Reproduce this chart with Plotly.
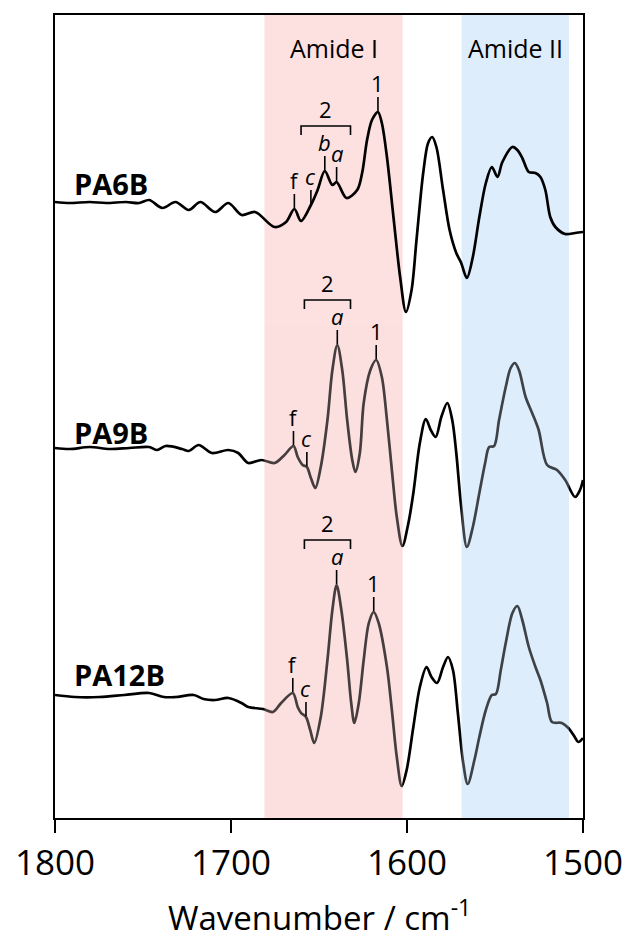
import numpy as np
import plotly.graph_objects as go

# ---------------- data ----------------
# Wavenumbers (cm-1) and relative intensities (a.u.) for each spectrum
pa6b_wn = [1800.0, 1791.6, 1780.3, 1770.9, 1759.6, 1752.2, 1746.5, 1739.0, 1731.5, 1724.0,
           1717.4, 1709.0, 1701.5, 1694.0, 1686.3, 1675.2, 1668.7, 1664.0, 1660.2, 1654.6,
           1650.8, 1646.7, 1642.4, 1640.0, 1634.4, 1628.3, 1625.5, 1622.7, 1619.9, 1616.5,
           1614.3, 1611.4, 1607.7, 1603.9, 1600.6, 1597.4, 1594.6, 1590.8, 1588.0, 1585.7,
           1583.3, 1579.5, 1575.8, 1572.0, 1569.2, 1566.0, 1562.6, 1558.9, 1555.2, 1551.8,
           1548.6, 1545.8, 1540.1, 1537.3, 1534.5, 1530.8, 1527.0, 1524.2, 1521.4, 1518.6,
           1515.7, 1510.1, 1504.5, 1500.0]
pa6b_int = [0.00, -0.01, 0.00, -0.01, 0.00, -0.01, 0.02, -0.06, 0.00, -0.08,
            0.00, -0.10, -0.01, -0.13, -0.10, -0.25, -0.20, -0.07, -0.19, -0.03,
            0.12, 0.31, 0.17, 0.20, 0.04, 0.12, 0.29, 0.62, 0.82, 0.90,
            0.79, 0.45, -0.15, -0.75, -1.10, -0.88, -0.38, 0.29, 0.59, 0.65,
            0.55, 0.12, -0.28, -0.51, -0.61, -0.76, -0.55, -0.15, 0.19, 0.35,
            0.25, 0.40, 0.55, 0.52, 0.44, 0.30, 0.29, 0.25, 0.12, -0.15,
            -0.25, -0.32, -0.31, -0.30]

pa9b_wn = [1800.0, 1791.6, 1780.3, 1769.0, 1757.8, 1746.5, 1742.0, 1737.1, 1727.8, 1724.0,
           1718.4, 1710.9, 1701.5, 1695.9, 1690.2, 1682.8, 1675.2, 1669.6, 1664.5, 1662.1,
           1659.3, 1656.9, 1654.6, 1652.1, 1649.0, 1645.2, 1642.4, 1639.6, 1636.8, 1634.0,
           1631.1, 1629.3, 1626.8, 1624.6, 1620.8, 1617.5, 1614.3, 1611.4, 1608.6, 1605.8,
           1602.6, 1599.2, 1596.4, 1592.7, 1589.3, 1586.5, 1583.7, 1580.5, 1577.1, 1574.3,
           1572.0, 1569.2, 1566.0, 1562.6, 1558.9, 1555.6, 1553.3, 1550.5, 1547.7, 1543.9,
           1541.1, 1538.7, 1536.4, 1532.6, 1528.9, 1525.2, 1520.4, 1514.8, 1510.1, 1504.5,
           1501.7, 1500.0]
pa9b_int = [0.00, -0.01, 0.01, -0.01, 0.00, 0.01, -0.02, 0.02, -0.01, -0.03,
            0.03, -0.05, -0.02, -0.05, -0.15, -0.12, -0.15, -0.07, 0.02, -0.09,
            -0.17, -0.19, -0.30, -0.40, -0.19, 0.28, 0.78, 1.03, 0.78, 0.28,
            -0.12, -0.24, -0.05, 0.45, 0.78, 0.88, 0.71, 0.28, -0.22, -0.69,
            -0.98, -0.75, -0.45, 0.05, 0.29, 0.18, 0.11, 0.31, 0.45, 0.28,
            -0.05, -0.59, -0.99, -0.79, -0.45, -0.15, 0.01, 0.02, 0.28, 0.61,
            0.80, 0.85, 0.78, 0.51, 0.35, 0.18, -0.17, -0.22, -0.32, -0.49,
            -0.42, -0.32]

pa12b_wn = [1800.0, 1788.7, 1774.7, 1760.6, 1746.5, 1738.1, 1731.5, 1721.2, 1715.6, 1709.0,
            1701.5, 1694.0, 1690.2, 1681.8, 1676.2, 1671.5, 1664.9, 1662.1, 1660.2, 1657.4,
            1655.0, 1652.7, 1649.0, 1645.2, 1642.4, 1640.0, 1637.3, 1634.0, 1631.7, 1629.9,
            1627.4, 1624.6, 1621.7, 1618.9, 1616.1, 1611.4, 1608.6, 1605.8, 1603.0, 1600.2,
            1596.4, 1592.7, 1588.9, 1586.1, 1582.9, 1579.5, 1576.7, 1573.9, 1571.1, 1568.3,
            1565.5, 1561.7, 1558.9, 1555.2, 1551.8, 1549.5, 1546.7, 1543.9, 1540.1, 1537.3,
            1534.5, 1530.8, 1527.0, 1524.2, 1520.4, 1517.6, 1512.0, 1508.3, 1505.4, 1502.6,
            1500.0]
pa12b_int = [0.01, -0.01, -0.01, 0.01, 0.03, -0.01, -0.01, 0.01, -0.03, -0.04,
             -0.02, -0.07, -0.11, -0.13, -0.16, -0.07, 0.03, -0.11, -0.17, -0.21,
             -0.34, -0.47, -0.21, 0.36, 0.86, 1.11, 0.86, 0.36, -0.07, -0.27,
             -0.07, 0.36, 0.73, 0.84, 0.73, 0.29, -0.14, -0.61, -0.90, -0.74,
             -0.31, 0.09, 0.29, 0.19, 0.13, 0.29, 0.39, 0.26, -0.17, -0.64,
             -0.88, -0.64, -0.41, -0.14, 0.01, 0.02, 0.26, 0.53, 0.83, 0.90,
             0.76, 0.49, 0.29, 0.16, -0.07, -0.26, -0.27, -0.32, -0.39, -0.46,
             -0.42]

sample_names = ["PA6B", "PA9B", "PA12B"]
offsets = [6.16, 3.70, 1.22]

# Peak labels: (label, wavenumber, italic)
peaks_pa6b = [("f", 1664.0, False), ("c", 1654.6, True), ("b", 1646.7, True),
              ("a", 1640.0, True), ("1", 1616.5, False)]
peaks_pa9b = [("f", 1664.5, False), ("c", 1656.9, True), ("a", 1639.6, True),
              ("1", 1617.5, False)]
peaks_pa12b = [("f", 1664.9, False), ("c", 1657.4, True), ("a", 1640.0, True),
               ("1", 1618.9, False)]
# bracket "2" spans (wavenumber from, to)
bracket_spans = [(1660.2, 1632.1), (1658.3, 1632.1), (1658.3, 1632.1)]

amide_I = (1681.0, 1602.5)
amide_II = (1569.0, 1508.0)
region_names = ["Amide I", "Amide II"]
x_ticks = [1800, 1700, 1600, 1500]

# ---------------- figure ----------------
FONT = "Open Sans"
PINK = "rgb(253,224,224)"
BLUE = "rgb(221,237,252)"

spectra = [(pa6b_wn, pa6b_int), (pa9b_wn, pa9b_int), (pa12b_wn, pa12b_int)]
peaks_all = [peaks_pa6b, peaks_pa9b, peaks_pa12b]

fig = go.Figure()
for (wn, it), off, name in zip(spectra, offsets, sample_names):
    fig.add_trace(go.Scatter(x=wn, y=np.array(it) + off, mode="lines", name=name,
                             line=dict(color="black", width=2.7, shape="spline", smoothing=0.9),
                             showlegend=False, hoverinfo="skip"))

shapes = []
for (x0, x1), col in [(amide_I, PINK), (amide_II, BLUE)]:
    shapes.append(dict(type="rect", xref="x", yref="paper", x0=x0, x1=x1, y0=0, y1=1,
                       fillcolor=col, line=dict(width=0), layer="below"))
    # translucent veil over the lower two spectra
    shapes.append(dict(type="rect", xref="x", yref="y", x0=x0, x1=x1, y0=0.03, y1=4.93,
                       fillcolor=col, opacity=0.28, line=dict(width=0), layer="above"))

annotations = []
TICK = 0.14
LABEL_SIZE = 22
for (wn, it), off, peaks, span in zip(spectra, offsets, peaks_all, bracket_spans):
    w_inc = np.array(wn)[::-1]
    i_inc = np.array(it)[::-1] + off
    label_ys = {}
    for lab, w, ital in peaks:
        yp = float(np.interp(w, w_inc, i_inc)) + 0.01
        shapes.append(dict(type="line", xref="x", yref="y", x0=w, x1=w, y0=yp, y1=yp + TICK,
                           line=dict(color="black", width=1.6)))
        ly = yp + TICK + 0.14
        label_ys[lab] = ly
        txt = f"<i>{lab}</i>" if ital else lab
        annotations.append(dict(x=w, y=ly, xref="x", yref="y", text=txt, showarrow=False,
                                font=dict(family=FONT, size=LABEL_SIZE, color="black"),
                                xanchor="center", yanchor="middle"))
    top = max(v for k, v in label_ys.items() if k in ("a", "b"))
    by = top + 0.16
    x0, x1 = span
    shapes.append(dict(type="path", xref="x", yref="y",
                       path=f"M {x0},{by - 0.09} L {x0},{by} L {x1},{by} L {x1},{by - 0.09}",
                       line=dict(color="black", width=1.6)))
    annotations.append(dict(x=(x0 + x1) / 2, y=by + 0.17, xref="x", yref="y", text="2",
                            showarrow=False, font=dict(family=FONT, size=LABEL_SIZE, color="black"),
                            xanchor="center", yanchor="middle"))

# sample names
name_dy = [0.19, 0.16, 0.22]
for name, off, dy in zip(sample_names, offsets, name_dy):
    annotations.append(dict(x=1790.5, y=off + dy, xref="x", yref="y", text=f"<b>{name}</b>",
                            showarrow=False, font=dict(family=FONT, size=29, color="black"),
                            xanchor="left", yanchor="middle"))

# region names
for (x0, x1), name in zip([amide_I, amide_II], region_names):
    annotations.append(dict(x=(x0 + x1) / 2, y=7.70, xref="x", yref="y", text=name,
                            showarrow=False, font=dict(family=FONT, size=25, color="black"),
                            xanchor="center", yanchor="middle"))

# axis title
annotations.append(dict(x=0.5, y=-0.121, xref="paper", yref="paper",
                        text="Wavenumber / cm<sup>-1</sup>", showarrow=False,
                        font=dict(family=FONT, size=33, color="black"),
                        xanchor="center", yanchor="middle"))

fig.update_layout(
    width=635, height=944,
    margin=dict(l=55, r=47, t=15, b=126),
    paper_bgcolor="white", plot_bgcolor="white",
    shapes=shapes, annotations=annotations,
    xaxis=dict(range=[1800, 1500], tickvals=x_ticks, ticks="outside", ticklen=13,
               tickwidth=2, tickcolor="black", showline=True, linewidth=2.4, linecolor="black",
               mirror=True, showgrid=False, zeroline=False,
               tickfont=dict(family=FONT, size=35, color="black")),
    yaxis=dict(range=[0, 8.03], showline=True, linewidth=2.4, linecolor="black", mirror=True,
               showticklabels=False, ticks="", showgrid=False, zeroline=False),
)

fig.write_html("out.html")
